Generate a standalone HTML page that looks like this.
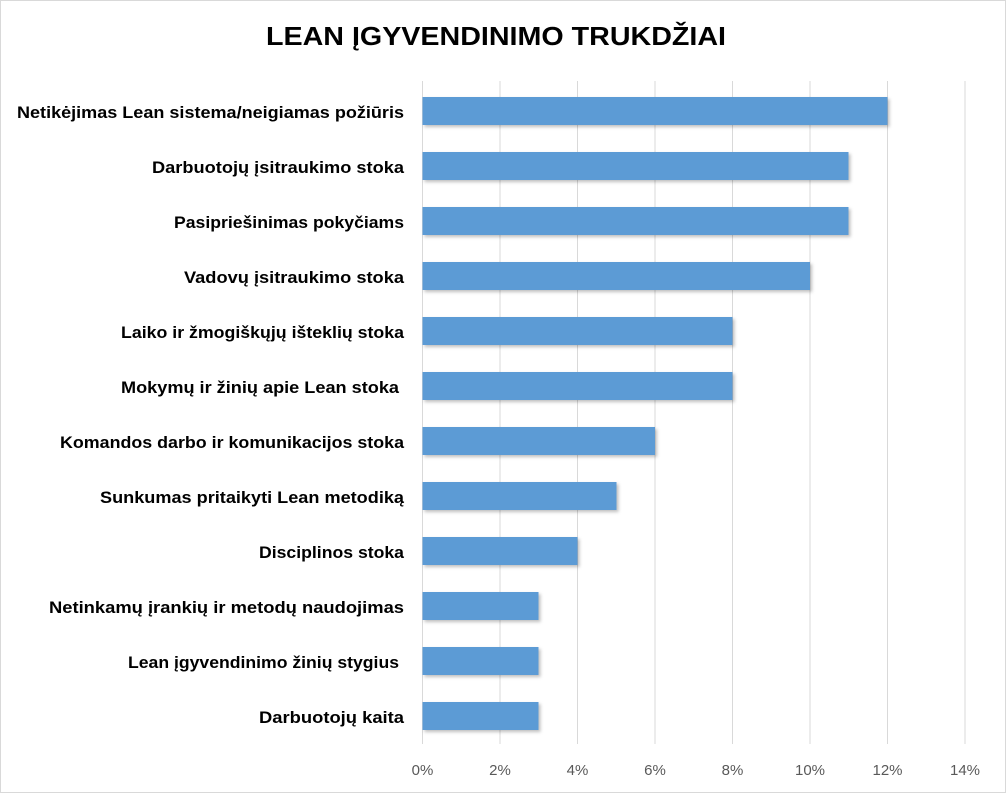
<!DOCTYPE html>
<html><head><style>
body{margin:0;background:#fff}
.wrap{position:relative;width:1004px;height:791px;border:1px solid #d9d9d9;background:#fff;overflow:hidden;font-family:"Liberation Sans",sans-serif}
</style></head><body><div class="wrap">
<svg width="1004" height="791" xmlns="http://www.w3.org/2000/svg" style="position:absolute;left:0;top:0">
<defs><filter id="s" x="-5%" y="-20%" width="115%" height="160%"><feDropShadow dx="2" dy="2" stdDeviation="1.5" flood-color="#000" flood-opacity="0.25"/></filter></defs>
<text x="265" y="44" font-size="26" font-weight="bold" fill="#000" textLength="460" lengthAdjust="spacingAndGlyphs">LEAN  ĮGYVENDINIMO TRUKDŽIAI</text>
<g stroke="#d9d9d9" stroke-width="1">
<line x1="421.5" y1="80" x2="421.5" y2="743"/><line x1="499" y1="80" x2="499" y2="743"/><line x1="576.5" y1="80" x2="576.5" y2="743"/><line x1="654" y1="80" x2="654" y2="743"/><line x1="731.5" y1="80" x2="731.5" y2="743"/><line x1="809" y1="80" x2="809" y2="743"/><line x1="886.5" y1="80" x2="886.5" y2="743"/><line x1="964" y1="80" x2="964" y2="743"/>
</g>
<g fill="#5b9bd5" filter="url(#s)">
<rect x="421.5" y="96" width="465" height="28"/>
<rect x="421.5" y="151" width="426" height="28"/>
<rect x="421.5" y="206" width="426" height="28"/>
<rect x="421.5" y="261" width="387.5" height="28"/>
<rect x="421.5" y="316" width="310" height="28"/>
<rect x="421.5" y="371" width="310" height="28"/>
<rect x="421.5" y="426" width="232.5" height="28"/>
<rect x="421.5" y="481" width="194" height="28"/>
<rect x="421.5" y="536" width="155" height="28"/>
<rect x="421.5" y="591" width="116" height="28"/>
<rect x="421.5" y="646" width="116" height="28"/>
<rect x="421.5" y="701" width="116" height="28"/>
</g>
<g font-size="17" font-weight="bold" fill="#000" lengthAdjust="spacingAndGlyphs">
<text x="16" y="117" textLength="387" lengthAdjust="spacingAndGlyphs">Netikėjimas Lean sistema/neigiamas požiūris</text>
<text x="151" y="172" textLength="252" lengthAdjust="spacingAndGlyphs">Darbuotojų įsitraukimo stoka</text>
<text x="173" y="227" textLength="230" lengthAdjust="spacingAndGlyphs">Pasipriešinimas pokyčiams</text>
<text x="183" y="282" textLength="220" lengthAdjust="spacingAndGlyphs">Vadovų įsitraukimo stoka</text>
<text x="120" y="337" textLength="283" lengthAdjust="spacingAndGlyphs">Laiko ir žmogiškųjų išteklių stoka</text>
<text x="120" y="392" textLength="278" lengthAdjust="spacingAndGlyphs">Mokymų ir žinių apie Lean stoka</text>
<text x="59" y="447" textLength="344" lengthAdjust="spacingAndGlyphs">Komandos darbo ir komunikacijos stoka</text>
<text x="99" y="502" textLength="304" lengthAdjust="spacingAndGlyphs">Sunkumas pritaikyti Lean metodiką</text>
<text x="258" y="557" textLength="145" lengthAdjust="spacingAndGlyphs">Disciplinos stoka</text>
<text x="48" y="612" textLength="355" lengthAdjust="spacingAndGlyphs">Netinkamų įrankių ir metodų naudojimas</text>
<text x="127" y="667" textLength="271" lengthAdjust="spacingAndGlyphs">Lean įgyvendinimo žinių stygius</text>
<text x="258" y="722" textLength="145" lengthAdjust="spacingAndGlyphs">Darbuotojų kaita</text>
</g>
<g font-size="15" fill="#595959" text-anchor="middle">
<text x="421.5" y="774">0%</text><text x="499" y="774">2%</text><text x="576.5" y="774">4%</text><text x="654" y="774">6%</text><text x="731.5" y="774">8%</text><text x="809" y="774">10%</text><text x="886.5" y="774">12%</text><text x="964" y="774">14%</text>
</g>
</svg></div></body></html>
